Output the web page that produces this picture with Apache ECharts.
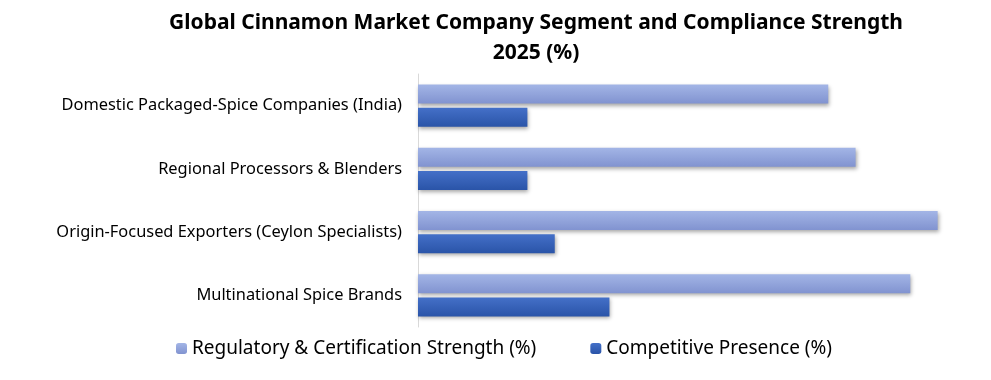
<!DOCTYPE html>
<html><head><meta charset="utf-8">
<script src="https://cdn.jsdelivr.net/npm/echarts@6/dist/echarts.min.js"></script>
<style>html,body{margin:0;padding:0;background:#fff}#c{width:991px;height:380px}</style>
</head><body><div id="c"></div>
<script>
const categories = ["Domestic Packaged-Spice Companies (India)", "Regional Processors & Blenders", "Origin-Focused Exporters (Ceylon Specialists)", "Multinational Spice Brands"];
const regulatory = [75, 80, 95, 90];
const competitive = [20, 20, 25, 35];
const seriesNames = ["Regulatory & Certification Strength (%)", "Competitive Presence (%)"];
const titleText = "Global Cinnamon Market Company Segment and Compliance Strength\n2025 (%)";

const chart = echarts.init(document.getElementById('c'));
const grad = (a, b) => new echarts.graphic.LinearGradient(0, 0, 0, 1, [{offset: 0, color: a}, {offset: 1, color: b}]);
const shadow = {shadowBlur: 4, shadowOffsetX: 1, shadowOffsetY: 2, shadowColor: 'rgba(0,0,0,0.35)'};
chart.setOption({
  animation: false,
  title: {text: titleText, left: 531, textAlign: 'center', top: 3, textStyle: {fontFamily: 'Noto Sans', fontWeight: 'bold', fontSize: 21, color: '#000', lineHeight: 30}},
  legend: {bottom: 17, left: 171, itemWidth: 11, itemHeight: 11, itemGap: 54, textStyle: {fontFamily: 'Noto Sans', fontSize: 19, color: '#000'}, data: seriesNames},
  grid: {left: 418, right: 26, top: 74, bottom: 53},
  xAxis: {type: 'value', min: 0, max: 100, show: false},
  yAxis: {type: 'category', inverse: true, data: categories, axisLine: {show: true, lineStyle: {color: '#d9d9d9', width: 1}}, axisTick: {show: false}, axisLabel: {fontFamily: 'Noto Sans', fontSize: 16.4, color: '#000', margin: 16}},
  series: [
    {name: seriesNames[0], type: 'bar', data: regulatory, barWidth: 19, barGap: '22%', itemStyle: Object.assign({color: grad('#a3b5e6', '#8193d0')}, shadow)},
    {name: seriesNames[1], type: 'bar', data: competitive, barWidth: 19, itemStyle: Object.assign({color: grad('#4470c8', '#2a54a8')}, shadow)}
  ]
});
</script></body></html>
